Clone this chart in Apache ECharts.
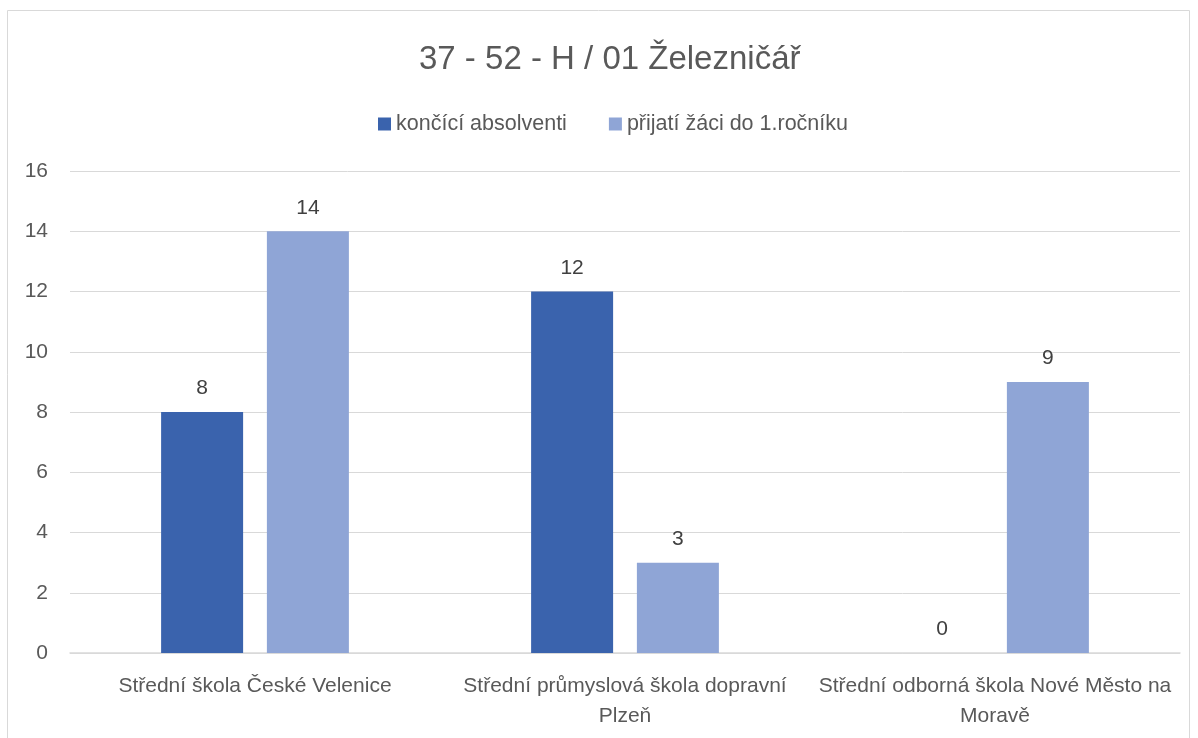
<!DOCTYPE html>
<html><head><meta charset="utf-8">
<script src="https://cdn.jsdelivr.net/npm/echarts@6/dist/echarts.min.js"></script>
<style>html,body{margin:0;padding:0;background:#fff}#c{width:1198px;height:738px}</style>
</head><body><div id="c"></div>
<script>
const titleText = '37 - 52 - H / 01 Železničář';
const categories = ['Střední škola České Velenice', 'Střední průmyslová škola dopravní Plzeň', 'Střední odborná škola Nové Město na Moravě'];
const seriesNames = ['končící absolventi', 'přijatí žáci do 1.ročníku'];
const absolventi = [8, 12, 0];
const prijati = [14, 3, 9];
const yTicks = {min: 0, max: 16, interval: 2};

// word wrap by character count (mimics the reference's line breaks)
function wrap(s, maxChars) {
  const words = s.split(' ');
  const lines = [];
  let cur = '';
  for (const w of words) {
    const t = cur ? cur + ' ' + w : w;
    if (t.length > maxChars && cur) { lines.push(cur); cur = w; } else { cur = t; }
  }
  if (cur) lines.push(cur);
  return lines.join('\n');
}

const font = 'Liberation Sans, Arial, sans-serif';
const chart = echarts.init(document.getElementById('c'));
chart.setOption({
  animation: false,
  textStyle: {fontFamily: font},
  graphic: [{type: 'rect', shape: {x: 7.5, y: 10.5, width: 1182, height: 740}, style: {fill: 'none', stroke: '#D9D9D9', lineWidth: 1}}],
  title: {text: titleText, left: 414, top: 38, textStyle: {fontFamily: font, fontSize: 33, fontWeight: 'normal', color: '#595959'}},
  legend: {top: 108, left: 373, itemWidth: 13, itemHeight: 13, itemGap: 42, icon: 'rect',
    textStyle: {fontFamily: font, fontSize: 21.5, color: '#595959'}, data: seriesNames},
  grid: {left: 70, right: 18, top: 171, bottom: 85},
  xAxis: {type: 'category', data: categories,
    axisLine: {lineStyle: {color: '#D9D9D9', width: 1.5}}, axisTick: {show: false},
    axisLabel: {color: '#595959', fontSize: 21, fontFamily: font, margin: 18, lineHeight: 30, interval: 0,
      formatter: v => wrap(v, 35)}},
  yAxis: {type: 'value', min: yTicks.min, max: yTicks.max, interval: yTicks.interval,
    axisLine: {show: false}, axisTick: {show: false},
    splitLine: {lineStyle: {color: '#D9D9D9', width: 1}},
    axisLabel: {color: '#595959', fontSize: 21, fontFamily: font, margin: 22}},
  series: [
    {name: seriesNames[0], type: 'bar', data: absolventi, barWidth: 82, barGap: '29%',
      itemStyle: {color: '#3A63AD'},
      label: {show: true, position: 'top', distance: 13, color: '#404040', fontSize: 21, fontFamily: font}},
    {name: seriesNames[1], type: 'bar', data: prijati, barWidth: 82,
      itemStyle: {color: '#8FA5D6'},
      label: {show: true, position: 'top', distance: 13, color: '#404040', fontSize: 21, fontFamily: font}}
  ]
});
</script></body></html>
